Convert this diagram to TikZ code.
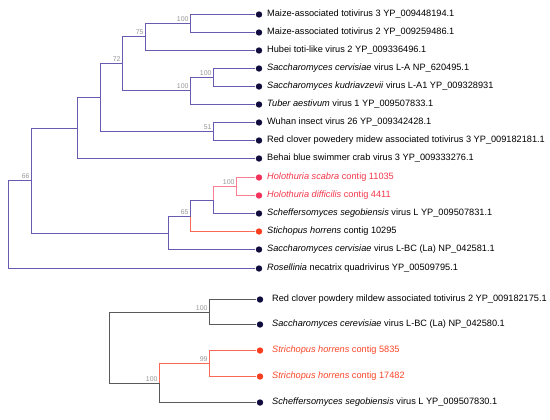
\documentclass[tikz,border=0pt]{standalone}
\usepackage{fontspec}
\setmainfont{Liberation Sans}
\usetikzlibrary{positioning}

\tikzset{every picture/.style={line width=0.75pt}}
\tikzset{
	pbranch/.style={draw={rgb, 255:red, 104; green, 90; blue, 176 }, line width=1.05pt},
	pinkbranch/.style={draw={rgb, 255:red, 250; green, 125; blue, 145 }, line width=1.05pt},
	orbranch/.style={draw={rgb, 255:red, 250; green, 105; blue, 85 }, line width=1.05pt},
	gbranch/.style={draw={rgb, 255:red, 90; green, 90; blue, 90 }, line width=1.05pt},
	tip/.style={circle, fill={rgb, 255:red, 16; green, 12; blue, 62 }, inner sep=0pt, minimum size=4.8pt},
	pinktip/.style={tip, fill={rgb, 255:red, 242; green, 50; blue, 90 }},
	ortip/.style={tip, fill={rgb, 255:red, 248; green, 62; blue, 30 }},
	txt/.style={font=\fontsize{6.9}{8}\selectfont, inner sep=0.5pt, anchor=west},
	pinktxt/.style={txt, text={rgb, 255:red, 242; green, 55; blue, 75 }},
	ortxt/.style={txt, text={rgb, 255:red, 250; green, 70; blue, 40 }},
	boot/.style={font=\fontsize{5.2}{6}\selectfont, text={rgb, 255:red, 150; green, 150; blue, 150 }, anchor=south east, inner sep=1.1pt}
}

\begin{document}
\begin{tikzpicture}[x=0.75pt,y=0.75pt,yscale=-1,xscale=1]
	\useasboundingbox (0,0) rectangle (550,419);

	%Internal nodes [upper tree]
	\coordinate (nA) at (190.5,23.5);
	\coordinate (nB) at (145.5,36.5);
	\coordinate (nC) at (213.5,77.5);
	\coordinate (nD) at (190.5,90.5);
	\coordinate (nE) at (122.5,63.5);
	\coordinate (nF) at (213.5,131.5);
	\coordinate (nG) at (100.5,97.5);
	\coordinate (nH) at (77.5,128.5);
	\coordinate (nM) at (236.5,186.5);
	\coordinate (nL) at (213.5,200.5);
	\coordinate (nK) at (190.5,216.5);
	\coordinate (nJ) at (168.5,233.5);
	\coordinate (nI) at (31.5,180.5);
	\coordinate (nRoot) at (8.5,224.5);
	%Internal nodes [lower tree]
	\coordinate (bA) at (209.5,312.5);
	\coordinate (bB) at (209.5,363.5);
	\coordinate (bC) at (159.5,383.5);
	\coordinate (bRoot) at (109.5,347.5);

	%Tips [upper tree]
	\node [tip] (l1) at (259,14.5) {};
	\node [tip] (l2) at (259,32.5) {};
	\node [tip] (l3) at (259,50.5) {};
	\node [tip] (l4) at (259,68.5) {};
	\node [tip] (l5) at (259,86.5) {};
	\node [tip] (l6) at (259,104.5) {};
	\node [tip] (l7) at (259,122.5) {};
	\node [tip] (l8) at (259,140.5) {};
	\node [tip] (l9) at (259,158.5) {};
	\node [pinktip] (l10) at (259,177.5) {};
	\node [pinktip] (l11) at (259,195.5) {};
	\node [tip] (l12) at (259,213.5) {};
	\node [ortip] (l13) at (259,231.5) {};
	\node [tip] (l14) at (259,249.5) {};
	\node [tip] (l15) at (259,268.5) {};
	%Tips [lower tree]
	\node [tip] (m1) at (260,299.5) {};
	\node [tip] (m2) at (260,324.5) {};
	\node [ortip] (m3) at (260,350.5) {};
	\node [ortip] (m4) at (260,376.5) {};
	\node [tip] (m5) at (260,402.5) {};

	%Branches [upper tree]
	\draw [pbranch] (nA) |- (l1);
	\draw [pbranch] (nA) |- (l2);
	\draw [pbranch] (nB) |- (nA);
	\draw [pbranch] (nB) |- (l3);
	\draw [pbranch] (nC) |- (l4);
	\draw [pbranch] (nC) |- (l5);
	\draw [pbranch] (nD) |- (nC);
	\draw [pbranch] (nD) |- (l6);
	\draw [pbranch] (nE) |- (nB);
	\draw [pbranch] (nE) |- (nD);
	\draw [pbranch] (nF) |- (l7);
	\draw [pbranch] (nF) |- (l8);
	\draw [pbranch] (nG) |- (nE);
	\draw [pbranch] (nG) |- (nF);
	\draw [pbranch] (nH) |- (nG);
	\draw [pbranch] (nH) |- (l9);
	\draw [pinkbranch] (nM) |- (l10);
	\draw [pinkbranch] (nM) |- (l11);
	\draw [pinkbranch] (nL) |- (nM);
	\draw [pbranch] (nL) |- (l12);
	\draw [pbranch] (nK) |- (nL);
	\draw [orbranch] (nK) |- (l13);
	\draw [pbranch] (nJ) |- (nK);
	\draw [pbranch] (nJ) |- (l14);
	\draw [pbranch] (nI) |- (nH);
	\draw [pbranch] (nI) |- (nJ);
	\draw [pbranch] (nRoot) |- (nI);
	\draw [pbranch] (nRoot) |- (l15);
	%Branches [lower tree]
	\draw [gbranch] (bA) |- (m1);
	\draw [gbranch] (bA) |- (m2);
	\draw [orbranch] (bB) |- (m3);
	\draw [orbranch] (bB) |- (m4);
	\draw [orbranch] (bC) |- (bB);
	\draw [gbranch] (bC) |- (m5);
	\draw [gbranch] (bRoot) |- (bA);
	\draw [gbranch] (bRoot) |- (bC);

	% Text Node
	\node [txt, right=2.5pt of l1] (t1) {Maize-associated totivirus 3 YP\_009448194.1};
	% Text Node
	\node [txt, right=2.5pt of l2] (t2) {Maize-associated totivirus 2 YP\_009259486.1};
	% Text Node
	\node [txt, right=2.5pt of l3] (t3) {Hubei toti-like virus 2 YP\_009336496.1};
	% Text Node
	\node [txt, right=2.5pt of l4] (t4) {\textit{Saccharomyces cervisiae} virus L-A NP\_620495.1};
	% Text Node
	\node [txt, right=2.5pt of l5] (t5) {\textit{Saccharomyces kudriavzevii} virus L-A1 YP\_009328931};
	% Text Node
	\node [txt, right=2.5pt of l6] (t6) {\textit{Tuber aestivum} virus 1 YP\_009507833.1};
	% Text Node
	\node [txt, right=2.5pt of l7] (t7) {Wuhan insect virus 26 YP\_009342428.1};
	% Text Node
	\node [txt, right=2.5pt of l8] (t8) {Red clover powedery midew associated totivirus 3 YP\_009182181.1};
	% Text Node
	\node [txt, right=2.5pt of l9] (t9) {Behai blue swimmer crab virus 3 YP\_009333276.1};
	% Text Node
	\node [pinktxt, right=2.5pt of l10] (t10) {\textit{Holothuria scabra} contig 11035};
	% Text Node
	\node [pinktxt, right=2.5pt of l11] (t11) {\textit{Holothuria difficilis} contig 4411};
	% Text Node
	\node [txt, right=2.5pt of l12] (t12) {\textit{Scheffersomyces segobiensis} virus L YP\_009507831.1};
	% Text Node
	\node [txt, right=2.5pt of l13] (t13) {\textit{Stichopus horrens} contig 10295};
	% Text Node
	\node [txt, right=2.5pt of l14] (t14) {\textit{Saccharomyces cervisiae} virus L-BC (La) NP\_042581.1};
	% Text Node
	\node [txt, right=2.5pt of l15] (t15) {\textit{Rosellinia} necatrix quadrivirus YP\_00509795.1};
	% Text Node
	\node [txt, right=5.5pt of m1] (u1) {Red clover powdery mildew associated totivirus 2 YP\_009182175.1};
	% Text Node
	\node [txt, right=5.5pt of m2] (u2) {\textit{Saccharomyces cerevisiae} virus L-BC (La) NP\_042580.1};
	% Text Node
	\node [ortxt, right=5.5pt of m3] (u3) {\textit{Strichopus horrens} contig 5835};
	% Text Node
	\node [ortxt, right=5.5pt of m4] (u4) {\textit{Strichopus horrens} contig 17482};
	% Text Node
	\node [txt, right=5.5pt of m5] (u5) {\textit{Scheffersomyces segobiensis} virus L YP\_009507830.1};

	% Support values
	\node [boot] (sA) at (nA) {100};
	\node [boot] (sB) at (nB) {75};
	\node [boot] (sC) at (nC) {100};
	\node [boot] (sD) at (nD) {100};
	\node [boot] (sE) at (nE) {72};
	\node [boot] (sF) at (nF) {51};
	\node [boot] (sM) at (nM) {100};
	\node [boot] (sK) at (nK) {65};
	\node [boot] (sI) at (nI) {66};
	\node [boot] (sbA) at (bA) {100};
	\node [boot] (sbB) at (bB) {99};
	\node [boot] (sbC) at (bC) {100};

\end{tikzpicture}
\end{document}
